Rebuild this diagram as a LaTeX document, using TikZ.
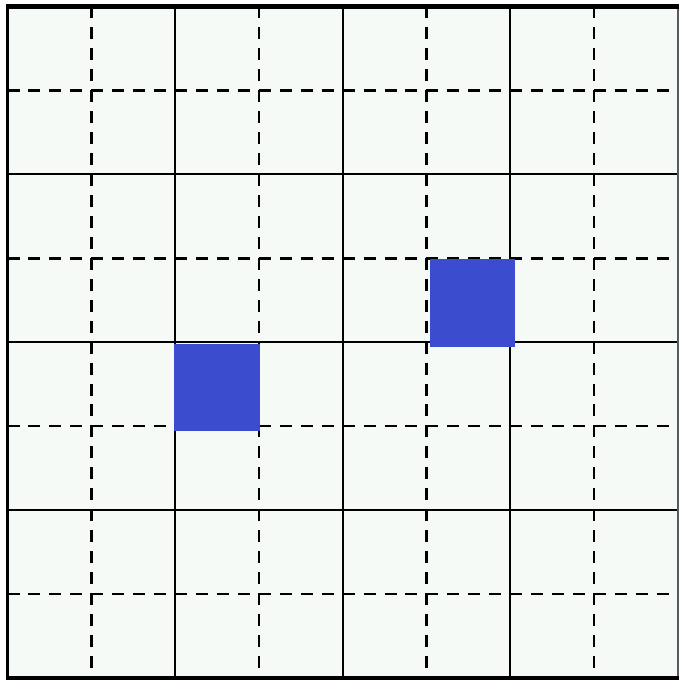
\documentclass[tikz,border=0pt]{standalone}
\definecolor{bgc}{RGB}{245,250,247}
\definecolor{cellblue}{RGB}{59,76,207}
\definecolor{edgegray}{RGB}{90,90,90}
\begin{document}
\begin{tikzpicture}[x=0.75pt,y=-0.75pt,
  solidline/.style={line width=1.5pt,black},
  dashline/.style={line width=1.85pt,black,dash pattern=on 9pt off 6.71pt},
  bluecell/.style={fill=cellblue}]
\useasboundingbox (0,0) rectangle (680,684);
\fill[white] (0,0) rectangle (680,684);
\fill[bgc] (7.5,6.5) rectangle (678,678);
% dashed lines
\foreach \i in {1,3,5,7}{
  \pgfmathsetmacro{\xx}{7.5+83.81*\i}
  \pgfmathsetmacro{\yy}{6.5+83.94*\i}
  \draw[dashline] (\xx,6.5) -- (\xx,678);
  \draw[dashline] (7.5,\yy) -- (678,\yy);
}
% solid lines
\foreach \i in {2,4,6}{
  \pgfmathsetmacro{\xx}{7.5+83.81*\i}
  \pgfmathsetmacro{\yy}{6.5+83.94*\i}
  \draw[solidline] (\xx,6.5) -- (\xx,678);
  \draw[solidline] (7.5,\yy) -- (678,\yy);
}
% blue cells
\fill[bluecell] (174,344) rectangle (260,431);
\fill[bluecell] (429.5,258.5) rectangle (515,347);
% borders
\draw[line width=1.5pt,edgegray] (678,6.5) -- (678,678);
\draw[line width=2.25pt,black] (7.5,6.5) -- (7.5,678);
\draw[line width=3.75pt,black] (5.5,6.5) -- (679,6.5);
\draw[line width=3pt,black] (5.5,678) -- (679,678);
\end{tikzpicture}
\end{document}
